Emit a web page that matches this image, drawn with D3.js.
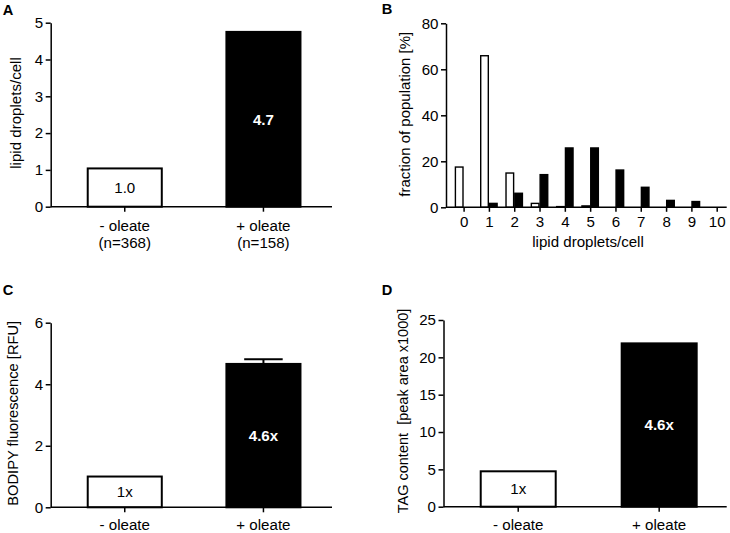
<!DOCTYPE html>
<html><head><meta charset="utf-8">
<script src="https://cdn.jsdelivr.net/npm/d3@7"></script>
<style>body{margin:0;background:#fff}</style>
</head><body><svg id="c" width="730" height="533" font-family="Liberation Sans, Arial, Helvetica, sans-serif"></svg>
<script>
// ---- data ----
const conditions = ["- oleate", "+ oleate"];
const nLabels = ["(n=368)", "(n=158)"];
const dropletsPerCell = [1.04, 4.75];
const dropletLabels = ["1.0", "4.7"];
const histBins = [0, 1, 2, 3, 4, 5, 6, 7, 8, 9, 10];
const histMinus = [17.5, 65.9, 14.9, 1.7, 0.3, 0.6, 0, 0, 0, 0, 0];
const histPlus = [0, 1.7, 6.1, 14.2, 25.8, 25.8, 16.2, 8.7, 3.0, 2.5, 0];
const bodipy = [1.0, 4.66];
const bodipyErr = [0, 0.15];
const bodipyLabels = ["1x", "4.6x"];
const tag = [4.74, 21.87];
const tagLabels = ["1x", "4.6x"];
const ticksA = [0, 1, 2, 3, 4, 5];
const ticksB = [0, 20, 40, 60, 80];
const ticksC = [0, 2, 4, 6];
const ticksD = [0, 5, 10, 15, 20, 25];

const svg = d3.select("#c");
const FONT = "Liberation Sans, Arial, Helvetica, sans-serif";

// size the text so that a reference string has the length it has in the picture
function measure(str, fs, weight) {
  const t = svg.append("text").attr("font-size", fs).attr("font-weight", weight || "normal")
    .style("white-space", "pre").text(str);
  const L = t.node().getComputedTextLength();
  t.remove();
  return L;
}
const FS = Math.min(16, Math.max(12, 15 * 111.7 / measure("lipid droplets/cell", 15)));

function styleAxis(g) {
  g.attr("font-family", FONT).attr("font-size", FS);
  g.selectAll("path,line").attr("stroke", "#000").attr("stroke-width", 1.5);
  g.selectAll("text").attr("fill", "#000");
}

function letter(x, y, t) {
  svg.append("text").attr("x", x).attr("y", y).attr("font-size", FS * 0.97)
    .attr("font-weight", "bold").text(t);
}

function yLabel(x, y, t, len) {
  const fs = Math.min(17, 15 * len / measure(t, 15));
  svg.append("text").attr("transform", `translate(${x},${y}) rotate(-90)`)
    .attr("text-anchor", "middle").attr("font-size", fs)
    .style("white-space", "pre").text(t);
}

function barPanel(o) {
  const y = d3.scaleLinear().domain([0, o.max]).range([o.y0, o.yTop]);
  const x = d3.scaleBand().domain(conditions)
    .range([o.x0, o.x0 + o.bandSpan]).paddingInner(o.pi).paddingOuter(o.po);
  const g = svg.append("g");
  g.selectAll("rect").data(o.values).join("rect")
    .attr("x", (d, i) => x(conditions[i]))
    .attr("width", x.bandwidth())
    .attr("y", d => y(d))
    .attr("height", d => y(0) - y(d))
    .attr("fill", (d, i) => i === 0 ? "#fff" : "#000")
    .attr("stroke", "#000").attr("stroke-width", 2);
  if (o.err) {
    o.err.forEach((e, i) => {
      if (!e) return;
      const cx = x(conditions[i]) + x.bandwidth() / 2;
      const cw = x.bandwidth() * 0.26;
      g.append("line").attr("x1", cx).attr("x2", cx)
        .attr("y1", y(o.values[i])).attr("y2", y(o.values[i] + e))
        .attr("stroke", "#000").attr("stroke-width", 2);
      g.append("line").attr("x1", cx - cw).attr("x2", cx + cw)
        .attr("y1", y(o.values[i] + e)).attr("y2", y(o.values[i] + e))
        .attr("stroke", "#000").attr("stroke-width", 2);
    });
  }
  g.selectAll("text.val").data(o.values).join("text").attr("class", "val")
    .attr("x", (d, i) => x(conditions[i]) + x.bandwidth() / 2)
    .attr("y", d => y(d / 2)).attr("dy", "0.36em")
    .attr("text-anchor", "middle").attr("font-size", FS)
    .attr("font-weight", (d, i) => i === 0 ? "normal" : "bold")
    .attr("fill", (d, i) => i === 0 ? "#000" : "#fff")
    .text((d, i) => o.labels[i]);
  const ya = svg.append("g").attr("transform", `translate(${o.x0},0)`)
    .call(d3.axisLeft(y).tickValues(o.ticks).tickFormat(d3.format("d"))
      .tickSize(5).tickPadding(2.5).tickSizeOuter(0));
  styleAxis(ya);
  const xa = svg.append("g").attr("transform", `translate(0,${o.y0})`)
    .call(d3.axisBottom(x).tickSize(5).tickPadding(8).tickFormat(() => ""));
  xa.select(".domain").remove();
  styleAxis(xa);
  svg.append("line").attr("x1", o.x0).attr("x2", o.x1).attr("y1", o.y0).attr("y2", o.y0)
    .attr("stroke", "#000").attr("stroke-width", 1.5);
  conditions.forEach((c, i) => {
    svg.append("text").attr("x", x(c) + x.bandwidth() / 2)
      .attr("y", o.y0 + o.labDy).attr("text-anchor", "middle").attr("font-size", FS).text(c);
    if (o.sub) {
      svg.append("text").attr("x", x(c) + x.bandwidth() / 2)
        .attr("y", o.y0 + o.labDy + 17.2).attr("text-anchor", "middle").attr("font-size", FS).text(o.sub[i]);
    }
  });
}

// Panel A
letter(2.7, 15, "A");
barPanel({x0: 50.7, x1: 332, bandSpan: 286.8, pi: 0.466, po: 0.267,
  y0: 206.7, yTop: 22.7, max: 5, ticks: ticksA, values: dropletsPerCell,
  labels: dropletLabels, sub: nLabels, labDy: 24.3});
yLabel(21, 113, "lipid droplets/cell", 111.7);

// Panel C
letter(2.7, 294.5, "C");
barPanel({x0: 50.7, x1: 332, bandSpan: 286.8, pi: 0.466, po: 0.267,
  y0: 507.3, yTop: 322.7, max: 6, ticks: ticksC, values: bodipy, err: bodipyErr,
  labels: bodipyLabels, labDy: 22.3});
yLabel(18, 413.3, "BODIPY fluorescence [RFU]", 185);

// Panel D
letter(381.7, 295, "D");
barPanel({x0: 443.5, x1: 726.7, bandSpan: 290.4, pi: 0.468, po: 0.264,
  y0: 506.7, yTop: 320, max: 25, ticks: ticksD, values: tag,
  labels: tagLabels, labDy: 22.8});
yLabel(408, 411, "TAG content  [peak area x1000]", 205);

// Panel B (histogram)
letter(381.7, 14, "B");
(function () {
  const x0 = 446, x1 = 726.7, y0 = 207.3, yTop = 23.3;
  const y = d3.scaleLinear().domain([0, 80]).range([y0, yTop]);
  const x = d3.scaleLinear().domain([0, 10]).range([463.6, 716.7]);
  const bw = 7.6;
  const g = svg.append("g");
  g.selectAll("rect.m").data(histMinus).join("rect").attr("class", "m")
    .attr("x", (d, i) => x(histBins[i]) - 0.6 - bw).attr("width", bw)
    .attr("y", d => y(d)).attr("height", d => y(0) - y(d))
    .attr("fill", "#fff").attr("stroke", "#000").attr("stroke-width", 1.4)
    .attr("display", d => d > 0 ? null : "none");
  g.selectAll("rect.p").data(histPlus).join("rect").attr("class", "p")
    .attr("x", (d, i) => x(histBins[i]) + 0.6).attr("width", bw)
    .attr("y", d => y(d)).attr("height", d => y(0) - y(d))
    .attr("fill", "#000").attr("stroke", "#000").attr("stroke-width", 1.4)
    .attr("display", d => d > 0 ? null : "none");
  const ya = svg.append("g").attr("transform", `translate(${x0},0)`)
    .call(d3.axisLeft(y).tickValues(ticksB).tickSize(5).tickPadding(2.5).tickSizeOuter(0));
  styleAxis(ya);
  const xa = svg.append("g").attr("transform", `translate(0,${y0})`)
    .call(d3.axisBottom(x).tickValues(histBins).tickSize(4.5).tickPadding(4).tickFormat(d3.format("d")));
  xa.select(".domain").remove();
  styleAxis(xa);
  svg.append("line").attr("x1", x0).attr("x2", x1).attr("y1", y0).attr("y2", y0)
    .attr("stroke", "#000").attr("stroke-width", 1.5);
  svg.append("text").attr("x", 588).attr("y", 246.5).attr("text-anchor", "middle")
    .attr("font-size", FS).text("lipid droplets/cell");
  yLabel(410, 114.2, "fraction of population [%]", 165);
})();
</script></body></html>
